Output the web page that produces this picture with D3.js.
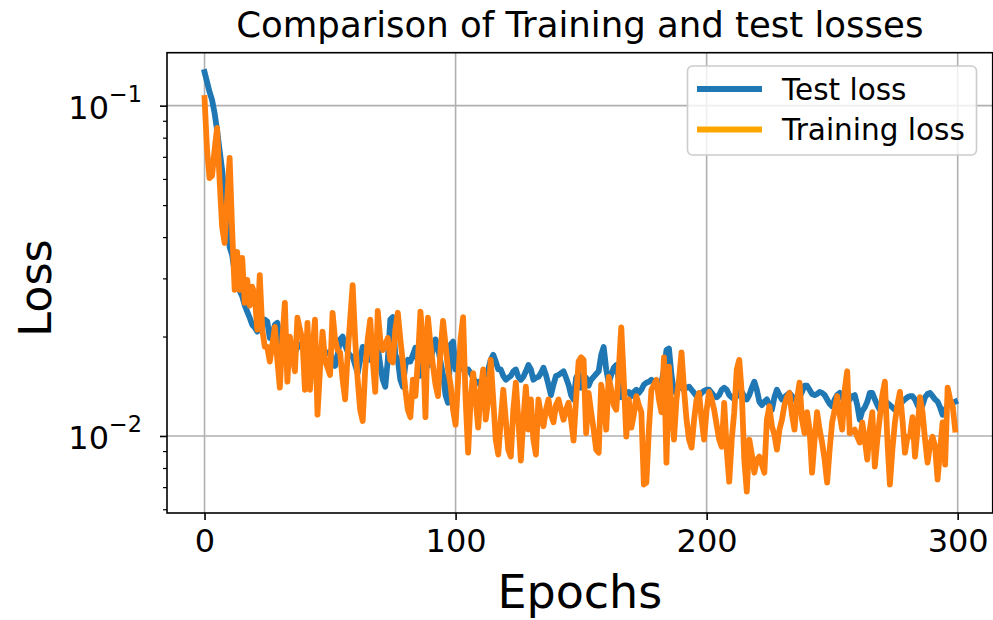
<!DOCTYPE html>
<html>
<head>
<meta charset="utf-8">
<script src="https://cdn.jsdelivr.net/npm/d3@7/dist/d3.min.js"></script>
<style>
  html, body { margin: 0; padding: 0; background: #ffffff; }
  svg { display: block; font-family: "DejaVu Sans", sans-serif; }
</style>
</head>
<body>
<svg id="chart" width="993" height="620"></svg>
<script>
// Loss per epoch (epochs 0..299)
const testLoss = [
  0.1264,0.1179,0.1100,0.1041,0.0950,0.0844,0.0734,0.0639,0.0544,0.0451,
  0.0373,0.0353,0.0312,0.0291,0.0275,0.0265,0.0249,0.0238,0.0228,0.0217,
  0.0213,0.0207,0.0210,0.0217,0.0225,0.0222,0.0198,0.0202,0.0217,0.0220,
  0.0196,0.0182,0.0189,0.0190,0.0186,0.0182,0.0180,0.0185,0.0189,0.0186,
  0.0180,0.0175,0.0174,0.0176,0.0179,0.0176,0.0174,0.0175,0.0177,0.0179,
  0.0179,0.0170,0.0163,0.0176,0.0196,0.0200,0.0188,0.0180,0.0175,0.0174,
  0.0164,0.0155,0.0170,0.0186,0.0180,0.0173,0.0170,0.0180,0.0186,0.0186,
  0.0164,0.0148,0.0141,0.0170,0.0225,0.0229,0.0176,0.0170,0.0148,0.0141,
  0.0164,0.0170,0.0168,0.0176,0.0185,0.0168,0.0152,0.0157,0.0162,0.0163,
  0.0170,0.0182,0.0196,0.0185,0.0168,0.0153,0.0133,0.0126,0.0189,0.0193,
  0.0159,0.0162,0.0161,0.0159,0.0159,0.0159,0.0155,0.0150,0.0145,0.0146,
  0.0142,0.0150,0.0155,0.0159,0.0170,0.0176,0.0168,0.0159,0.0159,0.0152,
  0.0148,0.0150,0.0152,0.0157,0.0159,0.0151,0.0148,0.0151,0.0157,0.0164,
  0.0159,0.0148,0.0150,0.0151,0.0155,0.0161,0.0153,0.0143,0.0133,0.0143,
  0.0152,0.0153,0.0155,0.0157,0.0150,0.0143,0.0133,0.0129,0.0150,0.0155,
  0.0140,0.0143,0.0150,0.0142,0.0148,0.0151,0.0154,0.0157,0.0176,0.0186,
  0.0159,0.0145,0.0153,0.0161,0.0164,0.0148,0.0131,0.0133,0.0135,0.0136,
  0.0132,0.0136,0.0138,0.0135,0.0138,0.0143,0.0145,0.0146,0.0148,0.0146,
  0.0143,0.0141,0.0145,0.0159,0.0182,0.0184,0.0153,0.0136,0.0140,0.0141,
  0.0140,0.0138,0.0140,0.0141,0.0138,0.0135,0.0132,0.0132,0.0135,0.0137,
  0.0138,0.0138,0.0135,0.0132,0.0131,0.0133,0.0138,0.0140,0.0138,0.0133,
  0.0131,0.0129,0.0132,0.0136,0.0136,0.0132,0.0129,0.0133,0.0140,0.0146,
  0.0138,0.0127,0.0124,0.0127,0.0129,0.0124,0.0120,0.0131,0.0138,0.0133,
  0.0129,0.0131,0.0133,0.0135,0.0132,0.0129,0.0127,0.0131,0.0136,0.0142,
  0.0142,0.0138,0.0134,0.0133,0.0134,0.0136,0.0135,0.0133,0.0129,0.0125,
  0.0123,0.0129,0.0133,0.0135,0.0131,0.0127,0.0126,0.0129,0.0132,0.0133,
  0.0124,0.0112,0.0119,0.0122,0.0127,0.0135,0.0135,0.0129,0.0124,0.0120,
  0.0123,0.0125,0.0126,0.0124,0.0122,0.0120,0.0120,0.0124,0.0127,0.0129,
  0.0131,0.0132,0.0132,0.0129,0.0124,0.0120,0.0124,0.0131,0.0134,0.0135,
  0.0132,0.0129,0.0127,0.0122,0.0116,0.0120,0.0124,0.0125,0.0126,0.0127
];

const trainingLoss = [
  0.1055,0.0734,0.0604,0.0613,0.0734,0.0856,0.0596,0.0430,0.0384,0.0518,
  0.0695,0.0421,0.0277,0.0361,0.0277,0.0346,0.0253,0.0297,0.0248,0.0283,
  0.0267,0.0210,0.0307,0.0210,0.0186,0.0186,0.0168,0.0189,0.0214,0.0170,
  0.0140,0.0196,0.0253,0.0146,0.0200,0.0176,0.0157,0.0228,0.0210,0.0196,
  0.0138,0.0220,0.0138,0.0182,0.0225,0.0116,0.0159,0.0207,0.0170,0.0161,
  0.0153,0.0236,0.0196,0.0182,0.0179,0.0148,0.0129,0.0176,0.0225,0.0286,
  0.0196,0.0148,0.0120,0.0111,0.0159,0.0196,0.0225,0.0170,0.0136,0.0239,
  0.0196,0.0182,0.0189,0.0198,0.0170,0.0167,0.0210,0.0236,0.0196,0.0167,
  0.0138,0.0120,0.0114,0.0148,0.0132,0.0170,0.0238,0.0196,0.0114,0.0228,
  0.0189,0.0163,0.0143,0.0132,0.0182,0.0223,0.0189,0.0159,0.0143,0.0120,
  0.0108,0.0148,0.0196,0.0229,0.0129,0.0089,0.0129,0.0155,0.0129,0.0106,
  0.0138,0.0159,0.0112,0.0129,0.0170,0.0129,0.00975,0.00878,0.0112,0.0138,
  0.0112,0.00909,0.00866,0.0120,0.0145,0.0112,0.00842,0.0112,0.0141,0.01045,
  0.0129,0.00975,0.00878,0.0129,0.0116,0.0107,0.0120,0.0129,0.0116,0.0110,
  0.0124,0.0129,0.0120,0.0112,0.0120,0.0126,0.0112,0.00968,0.0129,0.0168,
  0.0173,0.0170,0.0102,0.0135,0.0118,0.01045,0.00909,0.00890,0.0143,0.0129,
  0.01045,0.0151,0.0138,0.0124,0.0120,0.0159,0.0213,0.0148,0.00995,0.0129,
  0.0106,0.0116,0.0132,0.0124,0.0118,0.00713,0.00722,0.01045,0.0138,0.0143,
  0.0148,0.0129,0.0118,0.0173,0.00830,0.0162,0.0120,0.00975,0.0129,0.0148,
  0.0179,0.0138,0.0112,0.00975,0.00922,0.0112,0.0129,0.0135,0.0112,0.00975,
  0.0120,0.0136,0.0129,0.0120,0.0108,0.00975,0.00928,0.0126,0.00909,0.00727,
  0.00975,0.0118,0.0159,0.0170,0.0135,0.00848,0.00679,0.00975,0.00878,0.00774,
  0.00848,0.00866,0.00819,0.00774,0.0112,0.0123,0.0107,0.0101,0.00909,0.01045,
  0.0112,0.0124,0.0131,0.0135,0.0116,0.01045,0.0129,0.0145,0.0112,0.0102,
  0.0118,0.01045,0.00774,0.00975,0.0118,0.01045,0.00955,0.00848,0.00722,0.00909,
  0.0110,0.0120,0.0132,0.0116,0.01045,0.0138,0.0157,0.0102,0.0103,0.01045,
  0.00995,0.00955,0.0110,0.00975,0.00848,0.01045,0.0118,0.00808,0.00975,0.0114,
  0.0133,0.0146,0.00975,0.00713,0.00909,0.0110,0.0124,0.0136,0.0112,0.00890,
  0.00995,0.00995,0.0114,0.00866,0.01045,0.0131,0.0118,0.00975,0.00830,0.00941,
  0.00995,0.00928,0.00738,0.00909,0.0110,0.00819,0.0140,0.0129,0.0123,0.01045
];

const epochs = testLoss.map((_, i) => i);

const xTicks = [0, 100, 200, 300];
const yMajorTicks = [0.01, 0.1];
const yMinorTicks = [0.006, 0.007, 0.008, 0.009, 0.02, 0.03, 0.04, 0.05, 0.06, 0.07, 0.08, 0.09];

const seriesNames = ["Test loss", "Training loss"];
const lineColors = ["#1f77b4", "#ff7f0e"];
const legendColors = ["#1f77b4", "#ffa500"];

const titleText = "Comparison of Training and test losses";
const xLabel = "Epochs";
const yLabel = "Loss";

// ---- layout ----
const plot = { left: 167, right: 992.7, top: 52.7, bottom: 513 };
const svg = d3.select("#chart");

const x = d3.scaleLinear().domain([-14.95, 313.95]).range([plot.left, plot.right]);
const y = d3.scaleLog().domain([0.005845, 0.14466]).range([plot.bottom, plot.top]);

const gridColor = "#b0b0b0";

// grid
const grid = svg.append("g");
grid.selectAll("line.gx").data(xTicks).join("line")
  .attr("x1", d => x(d)).attr("x2", d => x(d))
  .attr("y1", plot.top).attr("y2", plot.bottom)
  .attr("stroke", gridColor).attr("stroke-width", 1.6);
grid.selectAll("line.gy").data(yMajorTicks).join("line")
  .attr("x1", plot.left).attr("x2", plot.right)
  .attr("y1", d => y(d)).attr("y2", d => y(d))
  .attr("stroke", gridColor).attr("stroke-width", 1.6);

// lines
svg.append("clipPath").attr("id", "plotclip").append("rect")
  .attr("x", plot.left).attr("y", plot.top)
  .attr("width", plot.right - plot.left).attr("height", plot.bottom - plot.top);

const lineGen = d3.line().x((d, i) => x(epochs[i])).y(d => y(d));
const linesG = svg.append("g").attr("clip-path", "url(#plotclip)");
[testLoss, trainingLoss].forEach((series, k) => {
  linesG.append("path")
    .datum(series)
    .attr("d", lineGen)
    .attr("fill", "none")
    .attr("stroke", lineColors[k])
    .attr("stroke-width", 5.8)
    .attr("stroke-linejoin", "round")
    .attr("stroke-linecap", "square");
});

// axes
const xAxis = d3.axisBottom(x).tickValues(xTicks).tickSize(7).tickPadding(9).tickFormat(d3.format("d"));
const xg = svg.append("g").attr("transform", `translate(0,${plot.bottom})`).call(xAxis);
xg.select(".domain").remove();
xg.selectAll(".tick line").attr("stroke", "#000").attr("stroke-width", 1.6);
xg.selectAll(".tick text").attr("font-size", 32).attr("fill", "#000")
  .attr("font-family", "DejaVu Sans");

const yAxis = d3.axisLeft(y).tickValues(yMajorTicks).tickSize(7).tickPadding(6).tickFormat("");
const yg = svg.append("g").attr("transform", `translate(${plot.left},0)`).call(yAxis);
yg.select(".domain").remove();
yg.selectAll(".tick line").attr("stroke", "#000").attr("stroke-width", 1.6);
yg.selectAll(".tick text").remove();
yg.selectAll(".tick").each(function(d) {
  const exp = Math.round(Math.log10(d));
  const t = d3.select(this).append("text")
    .attr("x", -25).attr("y", 0)
    .attr("text-anchor", "end")
    .attr("fill", "#000")
    .attr("font-family", "DejaVu Sans");
  t.append("tspan").attr("font-size", 32).attr("dy", "0.4em").text("10");
  t.append("tspan").attr("font-size", 22.4).attr("dy", "-0.75em").text("\u2212" + Math.abs(exp));
});

const yMinor = d3.axisLeft(y).tickValues(yMinorTicks).tickSize(4).tickFormat("");
const ymg = svg.append("g").attr("transform", `translate(${plot.left},0)`).call(yMinor);
ymg.select(".domain").remove();
ymg.selectAll(".tick line").attr("stroke", "#000").attr("stroke-width", 1.2);

// frame
svg.append("rect")
  .attr("x", plot.left).attr("y", plot.top)
  .attr("width", plot.right - plot.left).attr("height", plot.bottom - plot.top)
  .attr("fill", "none").attr("stroke", "#000").attr("stroke-width", 1.6);

// title and labels
svg.append("text")
  .attr("x", (plot.left + plot.right) / 2).attr("y", 37)
  .attr("text-anchor", "middle").attr("font-size", 35.5).attr("fill", "#000")
  .text(titleText);

svg.append("text")
  .attr("x", (plot.left + plot.right) / 2).attr("y", 608)
  .attr("text-anchor", "middle").attr("font-size", 46).attr("fill", "#000")
  .text(xLabel);

svg.append("text")
  .attr("transform", `translate(51,288) rotate(-90)`)
  .attr("text-anchor", "middle").attr("font-size", 44.5).attr("fill", "#000")
  .text(yLabel);

// legend
const legend = svg.append("g");
legend.append("rect")
  .attr("x", 687.5).attr("y", 66).attr("width", 289).attr("height", 89)
  .attr("rx", 5).attr("ry", 5)
  .attr("fill", "#ffffff").attr("fill-opacity", 0.8)
  .attr("stroke", "#cccccc").attr("stroke-width", 1.6);
seriesNames.forEach((name, k) => {
  const cy = 89 + k * 40.5;
  legend.append("line")
    .attr("x1", 697).attr("x2", 762).attr("y1", cy).attr("y2", cy)
    .attr("stroke", legendColors[k]).attr("stroke-width", 5.8);
  legend.append("text")
    .attr("x", 782).attr("y", cy).attr("dy", "0.36em")
    .attr("font-size", 29.5).attr("fill", "#000")
    .text(name);
});
</script>
</body>
</html>
